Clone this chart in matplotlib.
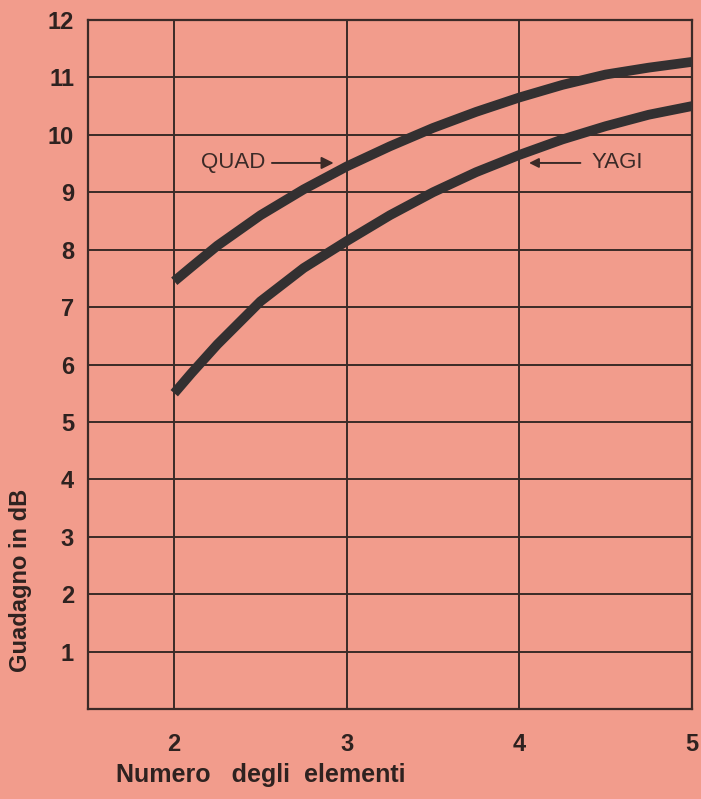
import matplotlib
matplotlib.use('Agg')
import matplotlib.pyplot as plt

# dati
elementi = [2, 2.1, 2.25, 2.5, 2.75, 3, 3.25, 3.5, 3.75, 4, 4.25, 4.5, 4.75, 5]
quad = [7.45, 7.7, 8.07, 8.6, 9.05, 9.45, 9.8, 10.12, 10.4, 10.65, 10.87, 11.05, 11.17, 11.27]
yagi = [5.5, 5.85, 6.35, 7.1, 7.68, 8.15, 8.6, 9.0, 9.35, 9.65, 9.92, 10.15, 10.35, 10.5]
x_ticks = [2, 3, 4, 5]
y_ticks = list(range(1, 13))

SFONDO = '#F29C8C'
INCHIOSTRO = '#3B2A27'
CURVA = '#333031'
TESTO = '#2E2220'

plt.rcParams['font.family'] = ['Liberation Sans', 'DejaVu Sans']

fig = plt.figure(figsize=(7.01, 7.99), dpi=100, facecolor=SFONDO)
ax = fig.add_axes([0.1255, 0.1126, 0.8615, 0.8624])
ax.set_facecolor(SFONDO)

ax.set_xlim(1.5, 5)
ax.set_ylim(0, 12)

# griglia
for x in x_ticks:
    ax.axvline(x, color=INCHIOSTRO, lw=1.4, zorder=1)
for y in y_ticks:
    ax.axhline(y, color=INCHIOSTRO, lw=1.4, zorder=1)
for s in ax.spines.values():
    s.set_color(INCHIOSTRO)
    s.set_linewidth(1.6)

# curve
ax.plot(elementi, quad, color=CURVA, lw=7, solid_capstyle='butt',
        solid_joinstyle='round', zorder=3)
ax.plot(elementi, yagi, color=CURVA, lw=7, solid_capstyle='butt',
        solid_joinstyle='round', zorder=3)

# etichette curve
ax.text(2.155, 9.51, 'QUAD', fontsize=16, color=INCHIOSTRO,
        va='center', ha='left')
ax.annotate('', xy=(2.94, 9.51), xytext=(2.55, 9.51),
            arrowprops=dict(arrowstyle='-|>', color=INCHIOSTRO, lw=1.4,
                            mutation_scale=18))
ax.text(4.42, 9.51, 'YAGI', fontsize=16, color=INCHIOSTRO,
        va='center', ha='left')
ax.annotate('', xy=(4.04, 9.51), xytext=(4.37, 9.51),
            arrowprops=dict(arrowstyle='-|>', color=INCHIOSTRO, lw=1.4,
                            mutation_scale=14))

ax.set_xticks(x_ticks)
ax.set_yticks(y_ticks)
ax.tick_params(length=0, labelsize=17, colors=TESTO, pad=10)
ax.tick_params(axis='x', pad=17)
for lab in ax.get_xticklabels() + ax.get_yticklabels():
    lab.set_fontweight('bold')

fig.text(0.166, 0.015, 'Numero   degli  elementi', fontsize=18,
         fontweight='bold', color=TESTO, ha='left', va='bottom')
fig.text(0.029, 0.274, 'Guadagno in dB', fontsize=17, fontweight='bold',
         color=TESTO, rotation=90, ha='center', va='center')

fig.savefig('out.png', dpi=100, facecolor=SFONDO)
